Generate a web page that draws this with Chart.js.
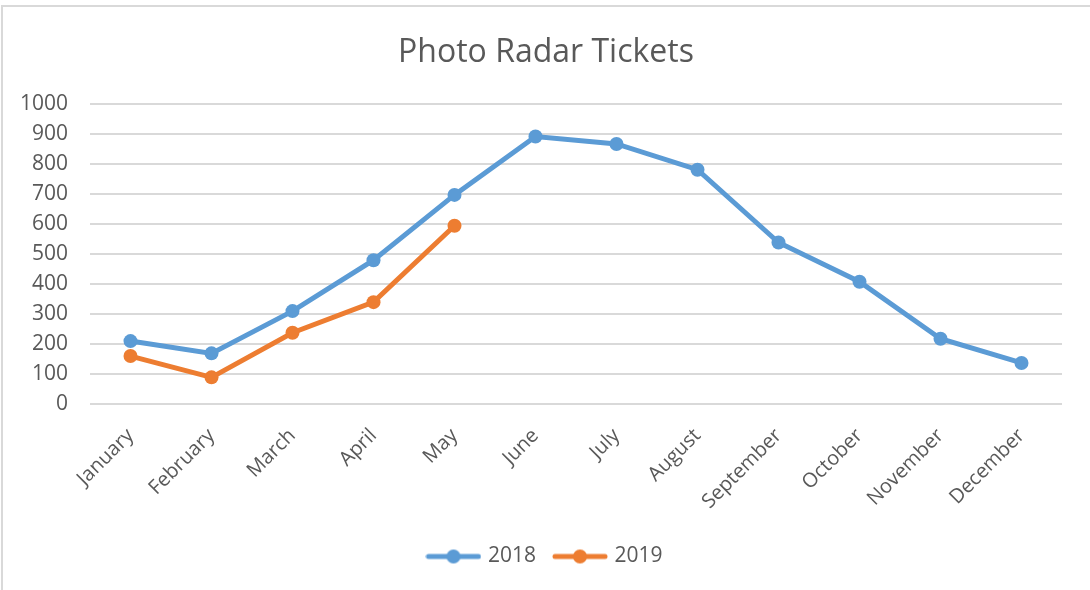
<!DOCTYPE html>
<html>
<head>
<meta charset="utf-8">
<script src="https://cdn.jsdelivr.net/npm/chart.js@4/dist/chart.umd.min.js"></script>
<style>
  html, body { margin: 0; padding: 0; background: #fff; overflow: hidden; }
  #wrap { position: relative; width: 1090px; height: 590px; }
  #frame { position: absolute; left: 1px; top: 5px; width: 1200px; height: 700px; border: 2px solid #d9d9d9; box-sizing: border-box; pointer-events: none; }
  canvas { position: absolute; left: 0; top: 0; }
</style>
</head>
<body>
<div id="wrap">
  <canvas id="c" width="1090" height="590"></canvas>
  <div id="frame"></div>
</div>
<script>
const months = ["January","February","March","April","May","June","July","August","September","October","November","December"];
const tickets2018 = [210, 169, 310, 480, 698, 893, 868, 782, 539, 408, 218, 137];
const tickets2019 = [160, 89, 238, 340, 595];
const seriesNames = ["2018", "2019"];
const titleText = "Photo Radar Tickets";

const BLUE = "#5B9BD5", ORANGE = "#ED7D31", TEXT = "#595959", GRID = "#d9d9d9";
const FONT = "'Open Sans', 'Liberation Sans', sans-serif";

function legendIcon(color) {
  const c = document.createElement("canvas");
  c.width = 56; c.height = 16;
  const g = c.getContext("2d");
  g.strokeStyle = color; g.lineWidth = 5; g.lineCap = "round";
  g.beginPath(); g.moveTo(3, 8); g.lineTo(53, 8); g.stroke();
  g.fillStyle = color;
  g.beginPath(); g.arc(28, 8, 7, 0, Math.PI * 2); g.fill();
  return c;
}
const icons = [legendIcon(BLUE), legendIcon(ORANGE)];

new Chart(document.getElementById("c"), {
  type: "line",
  data: {
    labels: months,
    datasets: [
      { label: seriesNames[0], data: tickets2018, borderColor: BLUE, backgroundColor: BLUE, borderWidth: 5, pointRadius: 7, pointHoverRadius: 7, pointBackgroundColor: BLUE, pointBorderWidth: 0, tension: 0 },
      { label: seriesNames[1], data: tickets2019, borderColor: ORANGE, backgroundColor: ORANGE, borderWidth: 5, pointRadius: 7, pointHoverRadius: 7, pointBackgroundColor: ORANGE, pointBorderWidth: 0, tension: 0 }
    ]
  },
  options: {
    responsive: false,
    animation: false,
    devicePixelRatio: 1,
    layout: { padding: { left: 2, right: 0, top: 0, bottom: 13 } },
    plugins: {
      title: {
        display: true, text: titleText, color: TEXT,
        font: { family: FONT, size: 32, weight: "normal" },
        padding: { top: 34, bottom: 32 }
      },
      legend: {
        position: "bottom",
        labels: {
          color: TEXT,
          font: { family: FONT, size: 21 },
          usePointStyle: true,
          pointStyleWidth: 48,
          padding: 20,
          generateLabels(chart) {
            return chart.data.datasets.map((ds, i) => ({
              text: ds.label, pointStyle: icons[i], fontColor: TEXT,
              datasetIndex: i, hidden: false, lineWidth: 0, strokeStyle: "transparent", fillStyle: "transparent"
            }));
          }
        }
      },
      tooltip: { enabled: false }
    },
    scales: {
      x: {
        offset: true,
        grid: { display: false },
        border: { display: false },
        ticks: { color: TEXT, font: { family: FONT, size: 20 }, minRotation: 45, maxRotation: 45, padding: 12, autoSkip: false },
        afterFit(scale) { scale.height = 122; }
      },
      y: {
        min: 0, max: 1000,
        grid: { color: GRID, lineWidth: 2, drawTicks: false },
        border: { display: false },
        ticks: { stepSize: 100, color: TEXT, font: { family: FONT, size: 21 }, padding: 22, callback: (v) => String(v) },
        afterFit(scale) { scale.width = 88; }
      },
      yRight: {
        position: "right",
        min: 0, max: 1000,
        grid: { display: false },
        border: { display: false },
        ticks: { display: false },
        afterFit(scale) { scale.width = 28; }
      }
    }
  }
});
</script>
</body>
</html>
